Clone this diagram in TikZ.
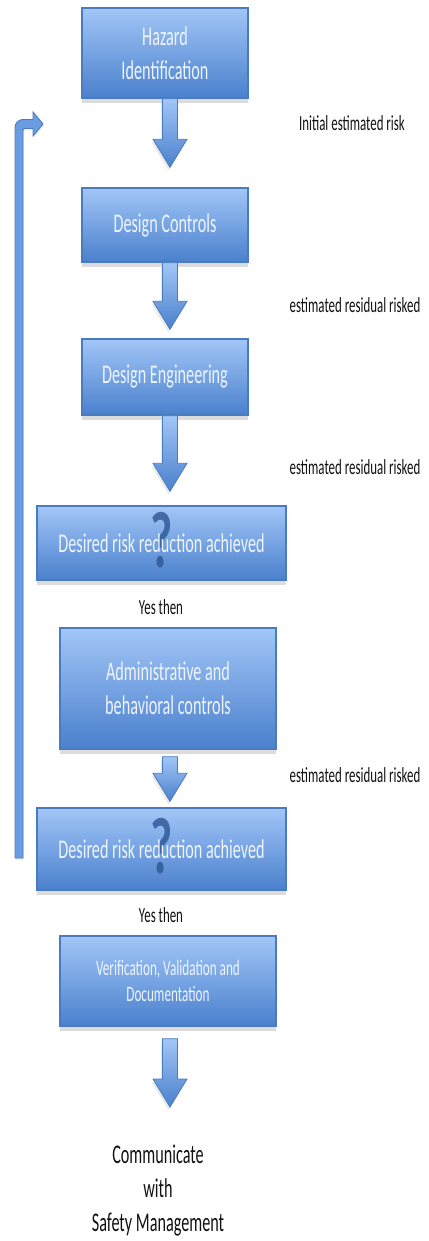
\documentclass[tikz,border=0pt]{standalone}
\usepackage{fontspec}
\setmainfont{Carlito}[FakeStretch=0.6]
\usetikzlibrary{calc,shadows}
\definecolor{boxtop}{HTML}{A2C6F7}
\definecolor{boxbot}{HTML}{4A80CD}
\definecolor{boxline}{HTML}{4A7BBE}
\definecolor{boxtext}{HTML}{EEF4FD}
\definecolor{qmark}{HTML}{2C5694}
\definecolor{lbl}{HTML}{111111}
\definecolor{loopfill}{HTML}{6A9CE2}
\tikzset{
  box/.style={draw=boxline, line width=1.4pt, top color=boxtop, bottom color=boxbot,
    text=boxtext, align=center, inner sep=0pt, font=\fontsize{27}{34}\selectfont,
    drop shadow={shadow xshift=0pt, shadow yshift=-5pt, fill=black!30, opacity=0.45}},
  qbox/.style={box, path picture={\node[text=qmark, opacity=0.8, font=\bfseries\fontsize{80}{80}\selectfont, inner sep=0pt]
      at ([yshift=3pt]path picture bounding box.center) {?};}},
  smallbox/.style={box, font=\fontsize{22}{26}\selectfont},
  lbl/.style={text=lbl, inner sep=0pt, font=\fontsize{21.5}{24}\selectfont},
  blockarrow/.style={draw=boxline, line width=0.8pt, top color=boxtop, bottom color=boxbot,
    drop shadow={shadow xshift=-1.5pt, shadow yshift=-3pt, fill=black!25, opacity=0.35},
    to path={let \p1=(\tikztostart), \p2=(\tikztotarget) in
      (\x1-7.5,\y1) -- (\x1-7.5,\y2+28) -- (\x1-17,\y2+28) -- (\x1,\y2) --
      (\x1+17,\y2+28) -- (\x1+7.5,\y2+28) -- (\x1+7.5,\y1) -- cycle}},
  looparrow/.style={draw=boxline, line width=0.9pt, fill=loopfill,
    drop shadow={shadow xshift=1pt, shadow yshift=-2pt, fill=black!20, opacity=0.3}}
}
\begin{document}
\begin{tikzpicture}[x=1pt,y=1pt]
\useasboundingbox (0,0) rectangle (428,-1241);
% boxes
\node[box, minimum width=166, minimum height=90] (hz) at (165,-53) {Hazard\\Identification};
\node[box, minimum width=166, minimum height=74] (dc) at (165,-225) {Design Controls};
\node[box, minimum width=166, minimum height=76] (de) at (165,-377) {Design Engineering};
\node[qbox, minimum width=249, minimum height=74] (q1) at (161.5,-543) {Desired risk reduction achieved};
\node[box, minimum width=216, minimum height=121] (ad) at (168,-688.5) {Administrative and\\behavioral controls};
\node[qbox, minimum width=249, minimum height=82] (q2) at (161.5,-849) {Desired risk reduction achieved};
\node[smallbox, minimum width=216, minimum height=90] (vv) at (168,-981) {Verification, Validation and\\Documentation};
% final text
\node[text=lbl, align=center, inner sep=0pt, font=\fontsize{27}{34}\selectfont] (cm) at (158,-1191) {Communicate\\with\\Safety Management};
% labels
\node[lbl] (l0) at (352,-123) {Initial estimated risk};
\node[lbl] (l1) at (355,-305) {estimated residual risked};
\node[lbl] (l2) at (355,-467) {estimated residual risked};
\node[lbl] (l3) at (355,-775) {estimated residual risked};
\node[lbl] (y1) at (161,-607) {Yes then};
\node[lbl] (y2) at (161,-915) {Yes then};
% block arrows
\coordinate (ax) at (170,0);
\coordinate (a5tip) at (170,-1107);
\path[blockarrow] (hz.south -| ax) to ($(dc.north -| ax)+(0,20)$);
\path[blockarrow] (dc.south -| ax) to ($(de.north -| ax)+(0,9)$);
\path[blockarrow] (de.south -| ax) to ($(q1.north -| ax)+(0,14)$);
\path[blockarrow] ($(ad.south -| ax)+(0,-7)$) to ($(q2.north -| ax)+(0,6)$);
\path[blockarrow] ($(vv.south -| ax)+(0,-12)$) to (a5tip);
% loop arrow
\coordinate (lb) at (19,-858);
\coordinate (lt) at (43,-124);
\path[looparrow] let \p1=(lb), \p2=(lt) in
  (\x1-4,\y1) [rounded corners=8pt] -- (\x1-4,\y2+4.5) [sharp corners] -- (\x2-10,\y2+4.5)
  -- (\x2-10,\y2+12) -- (\x2,\y2) -- (\x2-10,\y2-12) -- (\x2-10,\y2-4.5)
  [rounded corners=2pt] -- (\x1+4,\y2-4.5) [sharp corners] -- (\x1+4,\y1) -- cycle;
\end{tikzpicture}
\end{document}
